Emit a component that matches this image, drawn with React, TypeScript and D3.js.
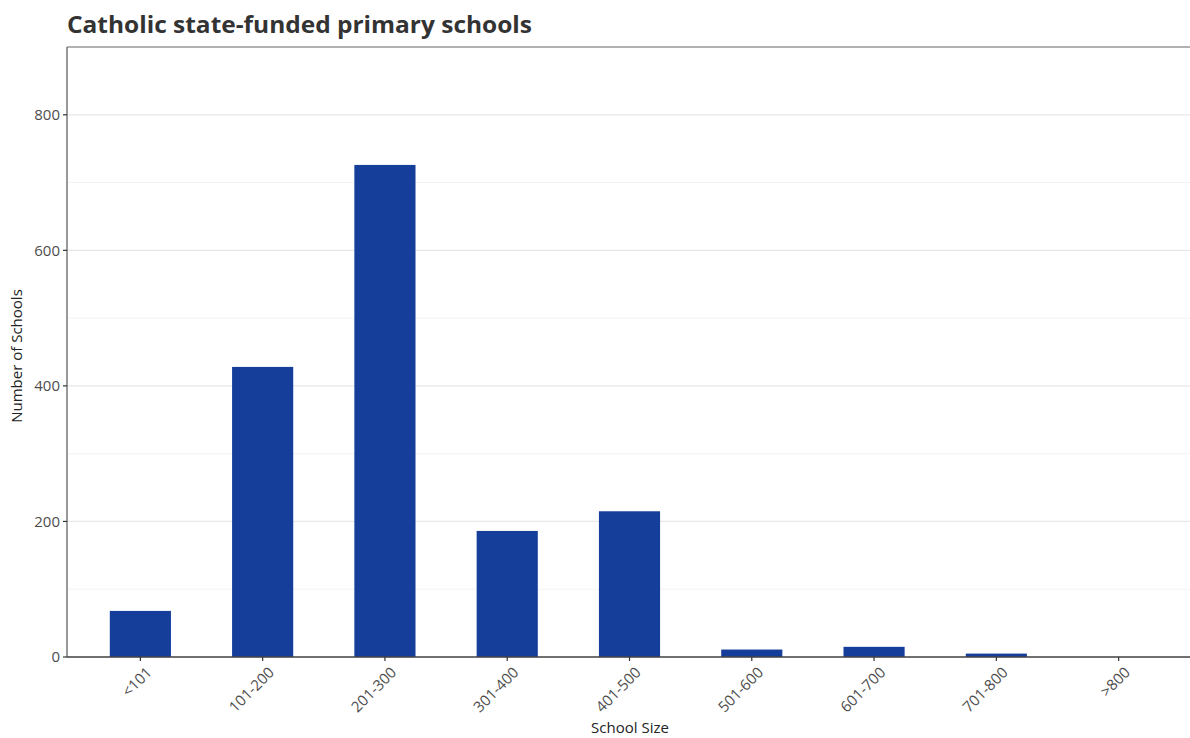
import React from "react";
import * as d3 from "d3";

const categories = ["<101", "101-200", "201-300", "301-400", "401-500", "501-600", "601-700", "701-800", ">800"];
const counts = [68, 428, 726, 186, 215, 11, 15, 5, 0];
const yTicks = [0, 200, 400, 600, 800];
const yMinor = [100, 300, 500, 700];

const W = 1190, H = 738;
const left = 67, right = 1192, top = 47, bottom = 657;
const FONT = "'Open Sans', 'Noto Sans', sans-serif";

export default function App() {
  const n = categories.length;
  const step = (right - left) / (n - 1 + 1.2);
  const x = d3.scalePoint<string>().domain(categories).range([left + 0.6 * step, right - 0.6 * step]);
  const y = d3.scaleLinear().domain([0, 900]).range([bottom, top]);
  const bw = step * 0.5;
  return (
    <svg width={W} height={H} style={{ position: "absolute", left: 0, top: 0, background: "#fff" }}>
      <text x={67} y={33} fontFamily={FONT} fontWeight="bold" fontSize={24} fill="#333" textLength={465} lengthAdjust="spacingAndGlyphs">Catholic state-funded primary schools</text>
      {yMinor.map(v => <line key={"m" + v} x1={left} x2={W} y1={y(v)} y2={y(v)} stroke="#f3f3f3" strokeWidth={1} />)}
      {yTicks.map(v => <line key={"g" + v} x1={left} x2={W} y1={y(v)} y2={y(v)} stroke="#e8e8e8" strokeWidth={1.2} />)}
      <line x1={left} x2={W} y1={top} y2={top} stroke="#999" strokeWidth={1.5} />
      {categories.map((c, i) => (
        <rect key={c} x={x(c)! - bw / 2} y={y(counts[i])} width={bw} height={bottom - y(counts[i])} fill="#143e9a" />
      ))}
      <line x1={left} x2={left} y1={top} y2={bottom} stroke="#555" strokeWidth={1.2} />
      <line x1={left} x2={W} y1={bottom} y2={bottom} stroke="#444" strokeWidth={1.5} />
      {yTicks.map(v => (
        <g key={"t" + v}>
          <line x1={left - 4} x2={left} y1={y(v)} y2={y(v)} stroke="#333" strokeWidth={1.2} />
          <text x={left - 7} y={y(v)} dy="0.35em" textAnchor="end" fontFamily={FONT} fontSize={15} fill="#4d4d4d">{v}</text>
        </g>
      ))}
      {categories.map(c => (
        <g key={"x" + c}>
          <line x1={x(c)} x2={x(c)} y1={bottom} y2={bottom + 4} stroke="#333" strokeWidth={1.2} />
          <text transform={`translate(${x(c)! + 5},${bottom + 9}) rotate(-45)`} textAnchor="end" dy="0.7em" fontFamily={FONT} fontSize={15} fill="#4d4d4d">{c}</text>
        </g>
      ))}
      <text x={630} y={733} textAnchor="middle" fontFamily={FONT} fontSize={15} fill="#222">School Size</text>
      <text transform={`translate(22,356) rotate(-90)`} textAnchor="middle" fontFamily={FONT} fontSize={15} fill="#222">Number of Schools</text>
    </svg>
  );
}
